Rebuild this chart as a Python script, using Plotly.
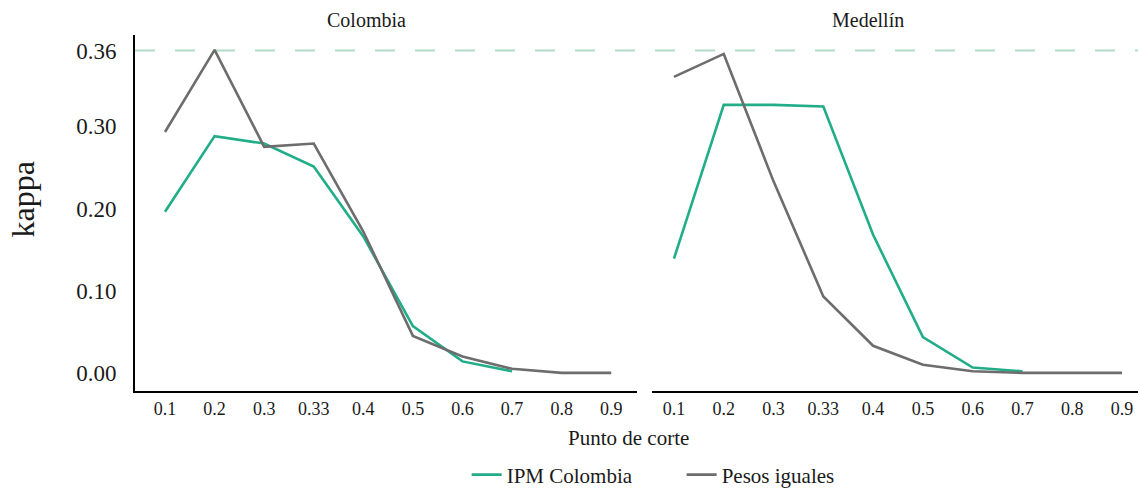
import plotly.graph_objects as go

# ---- data ----
cutoffs = ["0.1", "0.2", "0.3", "0.33", "0.4", "0.5", "0.6", "0.7", "0.8", "0.9"]
colombia_ipm = [0.196, 0.288, 0.279, 0.251, 0.166, 0.057, 0.014, 0.002]
colombia_equal = [0.293, 0.393, 0.275, 0.279, 0.172, 0.045, 0.020, 0.005, 0.0, 0.0]
medellin_ipm = [0.139, 0.326, 0.326, 0.324, 0.168, 0.0435, 0.0065, 0.002]
medellin_equal = [0.360, 0.388, 0.233, 0.093, 0.033, 0.010, 0.002, 0.0, 0.0, 0.0]
ref_value = 0.392
ytick_vals = [0.0, 0.1, 0.2, 0.3, 0.392]
ytick_text = ["0.00", "0.10", "0.20", "0.30", "0.36"]
series_names = ["IPM Colombia", "Pesos iguales"]
panel_titles = ["Colombia", "Medellín"]

GREEN = "#21ad88"
GRAY = "#6d6d6d"
FONT = "Liberation Serif"
TXT = "#1a1a1a"

fig = go.Figure()

fig.add_trace(go.Scatter(x=cutoffs[:len(colombia_ipm)], y=colombia_ipm, mode="lines",
                         line=dict(color=GREEN, width=2.6), name=series_names[0],
                         xaxis="x", yaxis="y", legendgroup="a"))
fig.add_trace(go.Scatter(x=cutoffs, y=colombia_equal, mode="lines",
                         line=dict(color=GRAY, width=2.6), name=series_names[1],
                         xaxis="x", yaxis="y", legendgroup="b"))
fig.add_trace(go.Scatter(x=cutoffs[:len(medellin_ipm)], y=medellin_ipm, mode="lines",
                         line=dict(color=GREEN, width=2.6), name=series_names[0],
                         xaxis="x2", yaxis="y2", legendgroup="a", showlegend=False))
fig.add_trace(go.Scatter(x=cutoffs, y=medellin_equal, mode="lines",
                         line=dict(color=GRAY, width=2.6), name=series_names[1],
                         xaxis="x2", yaxis="y2", legendgroup="b", showlegend=False))

yrange = [-0.022, 0.411]
xcommon = dict(type="category", categoryorder="array", categoryarray=cutoffs,
               showline=True, linecolor="black", linewidth=2, ticks="",
               showgrid=False, zeroline=False, ticklabelstandoff=0,
               tickfont=dict(family=FONT, size=18, color=TXT))

fig.update_layout(
    width=1138, height=488,
    margin=dict(l=135, r=0, t=35, b=97, autoexpand=False),
    paper_bgcolor="white", plot_bgcolor="white",
    font=dict(family=FONT, color=TXT),
    xaxis=dict(domain=[0, 0.5005], range=[-0.605, 9.52], anchor="y", **xcommon),
    xaxis2=dict(domain=[0.5155, 1], range=[-0.44, 9.32], anchor="y2", **xcommon),
    yaxis=dict(range=yrange, tickvals=ytick_vals, ticktext=ytick_text,
               showline=True, linecolor="black", linewidth=2, ticks="",
               showgrid=False, zeroline=False, ticklabelstandoff=12,
               tickfont=dict(family=FONT, size=23, color=TXT), anchor="x"),
    yaxis2=dict(range=yrange, showticklabels=False, showline=False, ticks="",
                showgrid=False, zeroline=False, anchor="x2"),
    showlegend=True,
    legend=dict(orientation="h", x=0.545, xanchor="center", y=-0.236, yanchor="middle",
                entrywidth=170, entrywidthmode="pixels",
                font=dict(family=FONT, size=21, color=TXT)),
    shapes=[dict(type="line", xref="paper", x0=0, x1=1, yref="y",
                 y0=ref_value, y1=ref_value,
                 line=dict(color="#b4dcca", width=2, dash="20px,20px"), layer="below")],
    annotations=[
        dict(text=panel_titles[0], xref="paper", yref="paper", x=0.231, y=1.042,
             xanchor="center", yanchor="middle",
             showarrow=False, font=dict(family=FONT, size=20, color=TXT)),
        dict(text=panel_titles[1], xref="paper", yref="paper", x=0.731, y=1.042,
             xanchor="center", yanchor="middle",
             showarrow=False, font=dict(family=FONT, size=20, color=TXT)),
        dict(text="Punto de corte", xref="paper", yref="paper", x=0.4925, y=-0.132,
             xanchor="center", yanchor="middle",
             showarrow=False, font=dict(family=FONT, size=21, color=TXT)),
        dict(text="kappa", xref="paper", yref="paper", x=-0.1107, y=0.538,
             xanchor="center", yanchor="middle",
             textangle=-90, showarrow=False, font=dict(family=FONT, size=32, color=TXT)),
    ],
)

fig.write_html("out.html")
